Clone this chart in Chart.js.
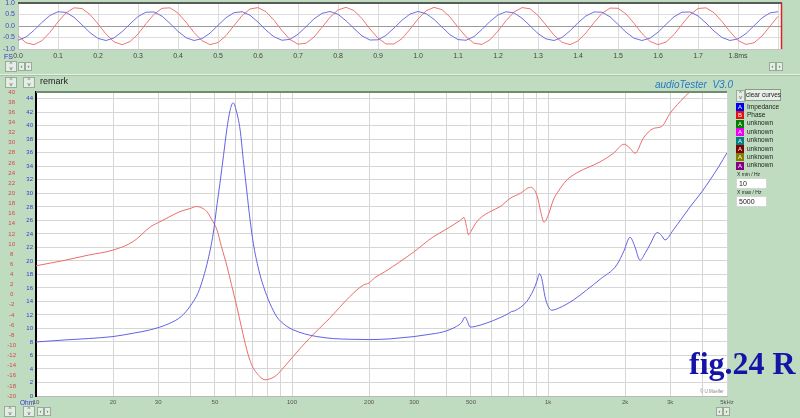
<!DOCTYPE html>
<html>
<head>
<meta charset="utf-8">
<script src="https://cdn.jsdelivr.net/npm/chart.js@4.4.1/dist/chart.umd.min.js"></script>
<style>
  html, body { margin: 0; padding: 0; }
  body { width: 800px; height: 418px; background: #c0dcc0; position: relative; overflow: hidden;
         font-family: "Liberation Sans", Arial, sans-serif; }
  canvas, .ui { position: absolute; }
  .spin { width: 12px; height: 11px; border: 1px solid #97ab97; background: #e4ede4; box-sizing: border-box;
          font-size: 6px; line-height: 4px; text-align: center; color: #555; }
  .arr { width: 7px; height: 9px; border: 1px solid #97ab97; background: #e4ede4; box-sizing: border-box;
         font-size: 6px; line-height: 7px; text-align: center; color: #444; }
  .sq { width: 8px; height: 8px; color: #fff; font-size: 6px; line-height: 8px; text-align: center; }
  .lbl { font-size: 6.5px; color: #222; white-space: nowrap; }
  .box { background: #fff; border: 1px solid #d0d8d0; box-sizing: border-box; font-size: 7px; color: #222;
         padding-left: 2px; line-height: 9px; }
</style>
</head>
<body>
<canvas id="scope" width="790" height="66" style="left:0;top:-4px"></canvas>
<canvas id="main" width="737" height="336" style="left:0;top:82px"></canvas>

<div class="ui" style="left:0;top:74px;width:800px;height:1px;background:#e6f1e6"></div>
<div class="ui" style="left:0;top:75px;width:800px;height:1px;background:#a8c0a8"></div>
<div class="ui" style="left:4px;top:53px;font-size:7px;color:#3535c8">FS</div>
<div class="ui" style="left:40px;top:76px;font-size:9px;color:#222">remark</div>
<div class="ui" style="left:655px;top:79px;font-size:10px;font-style:italic;color:#2378c8;white-space:nowrap">audioTester&nbsp; V3.0</div>
<div class="ui" style="left:20px;top:399px;font-size:6.5px;color:#3535c8">Ohm</div>
<div class="ui" style="left:689px;top:347px;font-family:'Liberation Serif',serif;font-weight:bold;font-size:32px;line-height:32px;color:#1414a6;white-space:nowrap;z-index:5">fig.24 R</div>
<div class="ui" style="left:700px;top:389px;font-size:4.5px;color:#888;white-space:nowrap">© U.Mueller</div>
<div class="ui" style="left:745px;top:89px;width:36px;height:12px;border:1px solid #8a9a8a;background:#e8efe8;box-sizing:border-box;font-size:6.5px;line-height:10px;text-align:center;color:#222;white-space:nowrap">clear curves</div>
<div class="ui lbl" style="left:737px;top:171px;font-size:5px">X min / Hz</div>
<div class="ui box" style="left:736px;top:178px;width:31px;height:11px">10</div>
<div class="ui lbl" style="left:737px;top:189px;font-size:5px">X max / Hz</div>
<div class="ui box" style="left:736px;top:196px;width:31px;height:11px">5000</div>

<script>
// scope trace (top panel), time in ms
const scopeTime = [0,0.02,0.04,0.06,0.08,0.10,0.12,0.14,0.16,0.18,
  0.20,0.22,0.24,0.26,0.28,0.30,0.32,0.34,0.36,0.38,
  0.40,0.42,0.44,0.46,0.48,0.50,0.52,0.54,0.56,0.58,
  0.60,0.62,0.64,0.66,0.68,0.70,0.72,0.74,0.76,0.78,
  0.80,0.82,0.84,0.86,0.88,0.90,0.92,0.94,0.96,0.98,
  1.00,1.02,1.04,1.06,1.08,1.10,1.12,1.14,1.16,1.18,
  1.20,1.22,1.24,1.26,1.28,1.30,1.32,1.34,1.36,1.38,
  1.40,1.42,1.44,1.46,1.48,1.50,1.52,1.54,1.56,1.58,
  1.60,1.62,1.64,1.66,1.68,1.70,1.72,1.74,1.76,1.78,
  1.80,1.82,1.84,1.86,1.88,1.90];
const scopeBlue = [-0.62,-0.48,-0.19,0.16,0.46,0.62,0.59,0.38,0.05,-0.29,
  -0.54,-0.63,-0.52,-0.25,0.09,0.41,0.60,0.61,0.43,0.11,
  -0.23,-0.51,-0.63,-0.55,-0.31,0.03,0.36,0.58,0.62,0.47,
  0.17,-0.18,-0.47,-0.62,-0.58,-0.36,-0.03,0.31,0.55,0.63,
  0.51,0.23,-0.11,-0.43,-0.61,-0.60,-0.41,-0.09,0.25,0.52,
  0.63,0.54,0.29,-0.05,-0.38,-0.59,-0.62,-0.46,-0.15,0.20,
  0.48,0.62,0.57,0.34,0.01,-0.33,-0.56,-0.63,-0.50,-0.21,
  0.14,0.44,0.61,0.60,0.40,0.07,-0.27,-0.53,-0.63,-0.53,
  -0.27,0.07,0.40,0.60,0.61,0.44,0.13,-0.22,-0.50,-0.63,
  -0.56,-0.33,0.01,0.35,0.57,0.62];
const scopeRed = [-0.42,-0.73,-0.81,-0.64,-0.27,0.18,0.57,0.79,0.76,0.50,
  0.09,-0.35,-0.69,-0.81,-0.68,-0.35,0.10,0.51,0.77,0.79,
  0.56,0.17,-0.28,-0.64,-0.81,-0.72,-0.42,0.02,0.45,0.74,
  0.80,0.62,0.25,-0.20,-0.59,-0.79,-0.75,-0.48,-0.06,0.38,
  0.70,0.81,0.67,0.32,-0.13,-0.53,-0.78,-0.78,-0.55,-0.14,
  0.30,0.66,0.81,0.71,0.39,-0.05,-0.47,-0.75,-0.80,-0.60,
  -0.22,0.23,0.61,0.80,0.75,0.46,0.04,-0.40,-0.71,-0.81,
  -0.65,-0.30,0.15,0.55,0.78,0.77,0.52,0.12,-0.33,-0.67,
  -0.81,-0.70,-0.37,0.07,0.49,0.76,0.79,0.58,0.19,-0.25,
  -0.63,-0.80,-0.73,-0.44,-0.01,0.42];
const scopeTimeTicks = [0,0.1,0.2,0.3,0.4,0.5,0.6,0.7,0.8,0.9,1.0,1.1,1.2,1.3,1.4,1.5,1.6,1.7,1.8,1.9];
const scopeTimeLabels = ['0.0','0.1','0.2','0.3','0.4','0.5','0.6','0.7','0.8','0.9','1.0','1.1','1.2','1.3','1.4','1.5','1.6','1.7','1.8ms',''];
const scopeLevelTicks = [-1,-0.5,0,0.5,1];
const scopeLevelLabels = ['-1.0','-0.5','0.0','0.5','1.0'];

// impedance (Ohm) and phase curves over frequency
const impFreqHz = [10,13,16,20,24,28,33,37,40,43,45,47,49.2,51,52.3,54,55.6,57.3,58.9,60.5,
  62.7,64.5,66.5,68.5,70.6,74,77.4,82,87.3,94,101,112,125,145,168,200,240,264,300,340,
  390,439,460,474,485,496,520,576,650,700,720,740,826,877,905,925,945,973,1000,1033,
  1100,1255,1416,1600,1855,1980,2090,2180,2287,2400,2500,2672,2770,2863,3088,3300,3590,4000,4297,4650,5000];
const impOhm = [8.0,8.3,8.5,8.8,9.3,9.8,10.7,11.8,13.3,15.3,17.5,20.2,24.0,28.5,31.5,35.6,39.4,42.3,43.4,42.3,
  39.4,35.0,30.5,26.2,22.6,18.8,16.2,13.7,11.7,10.5,9.8,9.2,8.8,8.5,8.4,8.35,8.45,8.6,8.8,9.1,
  9.5,10.3,10.9,11.7,11.0,10.2,10.3,10.8,11.6,12.2,12.5,12.6,14.0,15.7,17.0,18.1,17.4,14.7,13.3,12.7,
  13.0,14.2,15.7,17.3,19.4,21.5,23.5,22.2,20.1,21.2,22.4,24.2,23.8,23.1,24.6,26.1,28.0,30.3,32.0,34.0,36.0];
const phaseFreqHz = [10,13,16,20,24,28,30.5,33,36.5,40,42.4,44.5,46.5,48.5,50.9,53,55.8,58,60.9,63.5,
  66.6,69.5,72.9,78.5,82,87,93,101,117,140,168,190,200,210,230,264,300,356,400,452,
  470,480,489,500,520,543,600,651,711,779,855,880,909,935,964,1000,1049,1100,1183,1334,
  1416,1596,1800,1982,2090,2188,2356,2579,2780,2996,3280,3641,4200,5000];
const phaseDeg = [5.7,6.8,7.8,8.8,10.5,13.4,14.4,15.3,16.4,17.0,17.4,17.1,16.4,14.9,12.8,9.5,5.5,2.0,-2.4,-6.5,
  -10.9,-13.8,-15.5,-16.8,-16.6,-15.9,-14.3,-12.2,-8.6,-4.7,-0.4,1.9,2.3,3.3,4.5,6.5,8.5,11.4,12.9,14.6,
  15.2,13.5,11.8,12.5,14.0,15.1,16.5,17.4,19.0,20.0,21.2,20.8,19.3,16.5,14.3,15.6,18.7,20.5,22.6,24.4,
  25.0,26.2,27.9,29.7,28.9,27.9,30.9,32.8,33.2,35.8,38.1,40.4,43.0,46.0];

const freqTicks = [10,20,30,40,50,60,70,80,90,100,200,300,400,500,600,700,800,900,1000,2000,3000,4000,5000];
const freqTickLabels = ['10','20','30','','50','','','','','100','200','300','','500','','','','','1k','2k','3k','','5kHz'];
const ohmTicks = [0,2,4,6,8,10,12,14,16,18,20,22,24,26,28,30,32,34,36,38,40,42,44];
const phaseTicks = [-20,-18,-16,-14,-12,-10,-8,-6,-4,-2,0,2,4,6,8,10,12,14,16,18,20,22,24,26,28,30,32,34,36,38,40];

const legendNames = ['Impedance','Phase','unknown','unknown','unknown','unknown','unknown','unknown'];
const legendColors = ['#0000f0','#e01010','#008000','#f000f0','#008080','#800000','#808000','#800080'];
const legendLetters = ['A','B','A','A','A','A','A','A'];

Chart.defaults.font.family = '"Liberation Sans", Arial, sans-serif';

// white plot background, top frame line, optional red cursor at the right edge
const frame = {
  id: 'frame',
  beforeDraw(c) {
    const a = c.chartArea, ctx = c.ctx;
    ctx.save();
    ctx.fillStyle = '#fff';
    ctx.fillRect(a.left, a.top, a.right - a.left, a.bottom - a.top);
    ctx.restore();
  },
  afterDraw(c, args, opts) {
    const a = c.chartArea, ctx = c.ctx;
    ctx.save();
    ctx.strokeStyle = opts.top;
    ctx.lineWidth = opts.topWidth;
    ctx.beginPath();
    ctx.moveTo(a.left, a.top);
    ctx.lineTo(a.right, a.top);
    ctx.stroke();
    if (opts.marker) {
      ctx.strokeStyle = '#e02020';
      ctx.lineWidth = 1.5;
      ctx.beginPath();
      ctx.moveTo(a.right - 0.5, a.top);
      ctx.lineTo(a.right - 0.5, a.bottom);
      ctx.stroke();
    }
    ctx.restore();
  }
};

new Chart(document.getElementById('scope'), {
  type: 'line',
  plugins: [frame],
  data: {
    datasets: [
      { data: scopeTime.map((t, i) => ({ x: t, y: scopeBlue[i] })), borderColor: '#7070e2', borderWidth: 1, pointRadius: 0 },
      { data: scopeTime.map((t, i) => ({ x: t, y: scopeRed[i] })), borderColor: '#f07676', borderWidth: 1, pointRadius: 0 }
    ]
  },
  options: {
    responsive: false, animation: false, events: [],
    layout: { padding: { top: 7, right: 8, left: 0, bottom: 0 } },
    plugins: { legend: { display: false }, tooltip: { enabled: false }, frame: { top: '#303030', topWidth: 1.5, marker: true } },
    scales: {
      x: {
        type: 'linear', min: 0, max: 1.91,
        afterBuildTicks: s => { s.ticks = scopeTimeTicks.map(v => ({ value: v })); },
        afterFit: s => { s.height = 13; },
        ticks: { autoSkip: false, maxRotation: 0, padding: 3, color: '#444', font: { size: 7 },
                 callback: (v, i) => scopeTimeLabels[i] },
        grid: { color: '#dcdcdc', drawTicks: false },
        border: { color: '#c4c4c4' }
      },
      y: {
        min: -1, max: 1,
        afterBuildTicks: s => { s.ticks = scopeLevelTicks.map(v => ({ value: v })); },
        afterFit: s => { s.width = 18; },
        ticks: { autoSkip: false, padding: 3, color: '#4646c8', font: { size: 7, lineHeight: 1 },
                 callback: (v, i) => scopeLevelLabels[i] },
        grid: { color: ctx => (ctx.tick && ctx.tick.value === 0 ? '#9c9c9c' : '#dcdcdc'), drawTicks: false },
        border: { color: '#c4c4c4' }
      }
    }
  }
});

new Chart(document.getElementById('main'), {
  type: 'line',
  plugins: [frame],
  data: {
    datasets: [
      { label: 'Impedance', data: impFreqHz.map((f, i) => ({ x: f, y: impOhm[i] })), yAxisID: 'yOhm',
        borderColor: '#6262e4', borderWidth: 1, pointRadius: 0, cubicInterpolationMode: 'monotone' },
      { label: 'Phase', data: phaseFreqHz.map((f, i) => ({ x: f, y: phaseDeg[i] })), yAxisID: 'yPhase',
        borderColor: '#ec6c6c', borderWidth: 1, pointRadius: 0, cubicInterpolationMode: 'monotone' }
    ]
  },
  options: {
    responsive: false, animation: false, events: [],
    layout: { padding: { top: 10, right: 10, left: 0, bottom: 0 } },
    plugins: { legend: { display: false }, tooltip: { enabled: false }, frame: { top: '#6e8c6e', topWidth: 2, marker: false } },
    scales: {
      x: {
        type: 'logarithmic', min: 10, max: 5000,
        afterBuildTicks: s => { s.ticks = freqTicks.map(v => ({ value: v })); },
        afterFit: s => { s.height = 22; },
        ticks: { autoSkip: false, maxRotation: 0, padding: 3, color: '#555', font: { size: 6 },
                 callback: (v, i) => freqTickLabels[i] },
        grid: { color: '#d6d6d6', drawTicks: false },
        border: { color: '#b8b8b8' }
      },
      yOhm: {
        position: 'left', weight: 0, min: 0, max: 45,
        afterBuildTicks: s => { s.ticks = ohmTicks.map(v => ({ value: v })); },
        afterFit: s => { s.width = 14; },
        ticks: { autoSkip: false, padding: 3, color: '#3a3ad0', font: { size: 6 } },
        grid: { color: '#d6d6d6', drawTicks: false },
        border: { color: '#000', width: 2 }
      },
      yPhase: {
        position: 'left', weight: 1, min: -20, max: 40,
        afterBuildTicks: s => { s.ticks = phaseTicks.map(v => ({ value: v })); },
        afterFit: s => { s.width = 22; },
        ticks: { autoSkip: false, padding: 6, crossAlign: 'center', color: '#d04848', font: { size: 6 } },
        grid: { display: false, drawTicks: false },
        border: { display: false }
      }
    }
  }
});

// small window controls and the curve list on the right
function addUi(cls, left, top, html, style) {
  const d = document.createElement('div');
  d.className = 'ui ' + cls;
  d.style.left = left + 'px';
  d.style.top = top + 'px';
  if (style) d.style.cssText += style;
  d.innerHTML = html;
  document.body.appendChild(d);
  return d;
}
const spinHtml = '^<br>v';
addUi('spin', 5, 61, spinHtml);
addUi('arr', 18, 62, '&lsaquo;'); addUi('arr', 25, 62, '&rsaquo;');
addUi('arr', 769, 62, '&lsaquo;'); addUi('arr', 776, 62, '&rsaquo;');
addUi('spin', 5, 77, spinHtml);
addUi('spin', 23, 77, spinHtml);
addUi('spin', 4, 406, spinHtml);
addUi('spin', 23, 406, spinHtml);
addUi('arr', 37, 407, '&lsaquo;'); addUi('arr', 44, 407, '&rsaquo;');
addUi('arr', 716, 407, '&lsaquo;'); addUi('arr', 723, 407, '&rsaquo;');
addUi('spin', 736, 90, spinHtml, 'width:9px;height:12px;');

legendNames.forEach((name, i) => {
  const top = 103 + i * 8.4;
  addUi('sq', 736, top, legendLetters[i], 'background:' + legendColors[i] + ';');
  addUi('lbl', 747, top - 0.5, name);
});
</script>
</body>
</html>
